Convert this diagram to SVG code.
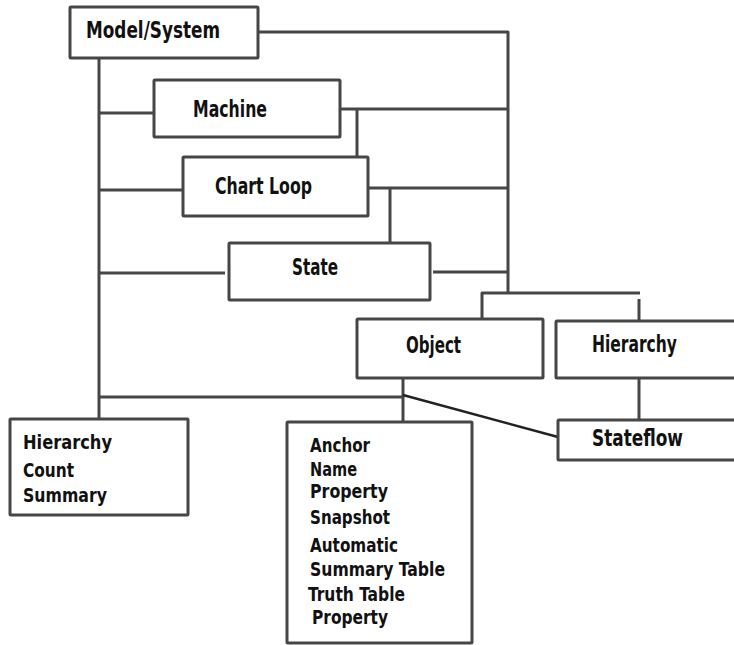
<svg xmlns="http://www.w3.org/2000/svg" width="734" height="645" viewBox="0 0 734 645">
<style>
.box{fill:#fff;stroke:#464646;stroke-width:3;}
.ln{fill:none;stroke:#464646;stroke-width:3;stroke-linecap:butt;stroke-linejoin:round;}
.diag{fill:none;stroke:#222;stroke-width:2.5;}
.lbl{font-family:"DejaVu Sans Condensed","DejaVu Sans",sans-serif;font-weight:bold;font-size:23.5px;fill:#111;}
.lst{font-family:"DejaVu Sans Condensed","DejaVu Sans",sans-serif;font-weight:bold;font-size:19.5px;fill:#111;}
</style>
<rect width="734" height="645" fill="#fff"/>
<g id="connectors">
<path class="ln" d="M258,32 H508 V293"/>
<path class="ln" d="M99,58 V419"/>
<path class="ln" d="M99,113 H154"/>
<path class="ln" d="M340,109 H508"/>
<path class="ln" d="M357,109 V157"/>
<path class="ln" d="M99,190 H183"/>
<path class="ln" d="M368,188 H508"/>
<path class="ln" d="M390,188 V243"/>
<path class="ln" d="M99,273 H225"/>
<path class="ln" d="M433,272 H508"/>
<path class="ln" d="M482,319 V293 H640"/>
<path class="ln" d="M639,299 V321"/>
<path class="ln" d="M99,397 H403"/>
<path class="ln" d="M403,378 V422"/>
<path class="diag" d="M403,395 L558,437"/>
<path class="ln" d="M639,378 V420"/>
</g>
<g id="model-system">
<rect class="box" x="70" y="7" width="188" height="51" rx="1"/>
<text class="lbl" x="86" y="38" textLength="134" lengthAdjust="spacingAndGlyphs">Model/System</text>
</g>
<g id="machine">
<rect class="box" x="154" y="80" width="186" height="57" rx="1"/>
<text class="lbl" x="193" y="117" textLength="74" lengthAdjust="spacingAndGlyphs">Machine</text>
</g>
<g id="chart-loop">
<rect class="box" x="183" y="157" width="185" height="59" rx="1"/>
<text class="lbl" x="215" y="194" textLength="97" lengthAdjust="spacingAndGlyphs">Chart Loop</text>
</g>
<g id="state">
<rect class="box" x="229" y="243" width="201" height="57" rx="1"/>
<text class="lbl" x="292" y="275" textLength="46" lengthAdjust="spacingAndGlyphs">State</text>
</g>
<g id="object">
<rect class="box" x="357" y="319" width="186" height="59" rx="1"/>
<text class="lbl" x="406" y="353" textLength="55" lengthAdjust="spacingAndGlyphs">Object</text>
</g>
<g id="hierarchy">
<rect class="box" x="556" y="321" width="186" height="57" rx="1"/>
<text class="lbl" x="592" y="352" textLength="85" lengthAdjust="spacingAndGlyphs">Hierarchy</text>
</g>
<g id="stateflow">
<rect class="box" x="558" y="420" width="184" height="40" rx="1"/>
<text class="lbl" x="592" y="446" textLength="91" lengthAdjust="spacingAndGlyphs">Stateflow</text>
</g>
<g id="hierarchy-count-summary">
<rect class="box" x="10" y="419" width="178" height="96" rx="1"/>
<text class="lst" x="23" y="449" textLength="89" lengthAdjust="spacingAndGlyphs">Hierarchy</text>
<text class="lst" x="23" y="477" textLength="51" lengthAdjust="spacingAndGlyphs">Count</text>
<text class="lst" x="23" y="502" textLength="84" lengthAdjust="spacingAndGlyphs">Summary</text>
</g>
<g id="object-list">
<rect class="box" x="287" y="422" width="185" height="221" rx="1"/>
<text class="lst" x="310" y="452" textLength="60" lengthAdjust="spacingAndGlyphs">Anchor</text>
<text class="lst" x="310" y="476" textLength="47" lengthAdjust="spacingAndGlyphs">Name</text>
<text class="lst" x="310" y="498" textLength="78" lengthAdjust="spacingAndGlyphs">Property</text>
<text class="lst" x="310" y="524" textLength="80" lengthAdjust="spacingAndGlyphs">Snapshot</text>
<text class="lst" x="310" y="552" textLength="88" lengthAdjust="spacingAndGlyphs">Automatic</text>
<text class="lst" x="310" y="576" textLength="135" lengthAdjust="spacingAndGlyphs">Summary Table</text>
<text class="lst" x="308" y="601" textLength="97" lengthAdjust="spacingAndGlyphs">Truth Table</text>
<text class="lst" x="312" y="624" textLength="76" lengthAdjust="spacingAndGlyphs">Property</text>
</g>
</svg>
